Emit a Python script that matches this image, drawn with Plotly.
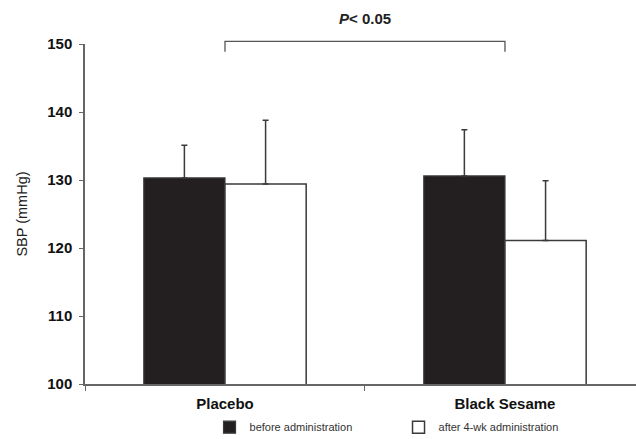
import plotly.graph_objects as go

# Systolic blood pressure by group, before and after 4 weeks of administration
groups = ["Placebo", "Black Sesame"]
before_mean = [130.3, 130.6]
before_sd = [4.8, 6.8]
after_mean = [129.4, 121.1]
after_sd = [9.4, 8.8]
y_ticks = [100, 110, 120, 130, 140, 150]
p_label = "<i>P</i>< 0.05"

FONT = "Liberation Sans, Arial, sans-serif"
EDGE = "#3a3a3a"

fig = go.Figure()
fig.add_trace(go.Bar(
    x=groups, y=before_mean, name="before administration",
    marker=dict(color="#231f20", line=dict(color=EDGE, width=1.2)),
    error_y=dict(type="data", array=before_sd, arrayminus=[0, 0], symmetric=False,
                 color=EDGE, thickness=1.5, width=3),
))
fig.add_trace(go.Bar(
    x=groups, y=after_mean, name="after 4-wk administration",
    marker=dict(color="white", line=dict(color=EDGE, width=1.5)),
    error_y=dict(type="data", array=after_sd, arrayminus=[0, 0], symmetric=False,
                 color=EDGE, thickness=1.5, width=3),
))

# significance bracket between the two groups
br_top = 1.008
br_foot = 0.977
fig.add_shape(type="path", xref="x", yref="paper",
              path=f"M 0,{br_foot} L 0,{br_top} L 1,{br_top} L 1,{br_foot}",
              line=dict(color="#555555", width=1.3))
fig.add_annotation(x=0.5, y=1.074, xref="x", yref="paper", text=p_label,
                   showarrow=False, yanchor="middle",
                   font=dict(family=FONT, size=15, color="#222222", weight="bold"))

fig.update_layout(
    width=636, height=439,
    margin=dict(l=85, r=0, t=44, b=55, autoexpand=False),
    paper_bgcolor="white", plot_bgcolor="white",
    barmode="group", bargap=0.42, bargroupgap=0,
    font=dict(family=FONT, color="#222222"),
    showlegend=True,
    legend=dict(orientation="h", x=0.226, xanchor="left", y=-0.127, yanchor="middle",
                font=dict(family=FONT, size=11, color="#333333"),
                entrywidth=144, itemwidth=30, traceorder="normal",
                bgcolor="rgba(0,0,0,0)"),
    xaxis=dict(type="category", range=[-0.5, 1.468],
               showline=True, linecolor="#666666", linewidth=1.5,
               ticks="outside", tickson="boundaries", ticklen=5, tickcolor="#666666",
               ticklabelstandoff=5,
               tickfont=dict(family=FONT, size=15, color="#111111", weight="bold"),
               showgrid=False, zeroline=False),
    yaxis=dict(range=[100, 150], tickvals=y_ticks,
               showline=True, linecolor="#666666", linewidth=1.5,
               ticks="outside", ticklen=4, tickcolor="#666666",
               ticklabelstandoff=4,
               tickfont=dict(family=FONT, size=15, color="#111111", weight="bold"),
               showgrid=False, zeroline=False,
               title=dict(text="SBP (mmHg)", standoff=16,
                          font=dict(family=FONT, size=14.5, color="#222222"))),
)

fig.write_html("out.html")
